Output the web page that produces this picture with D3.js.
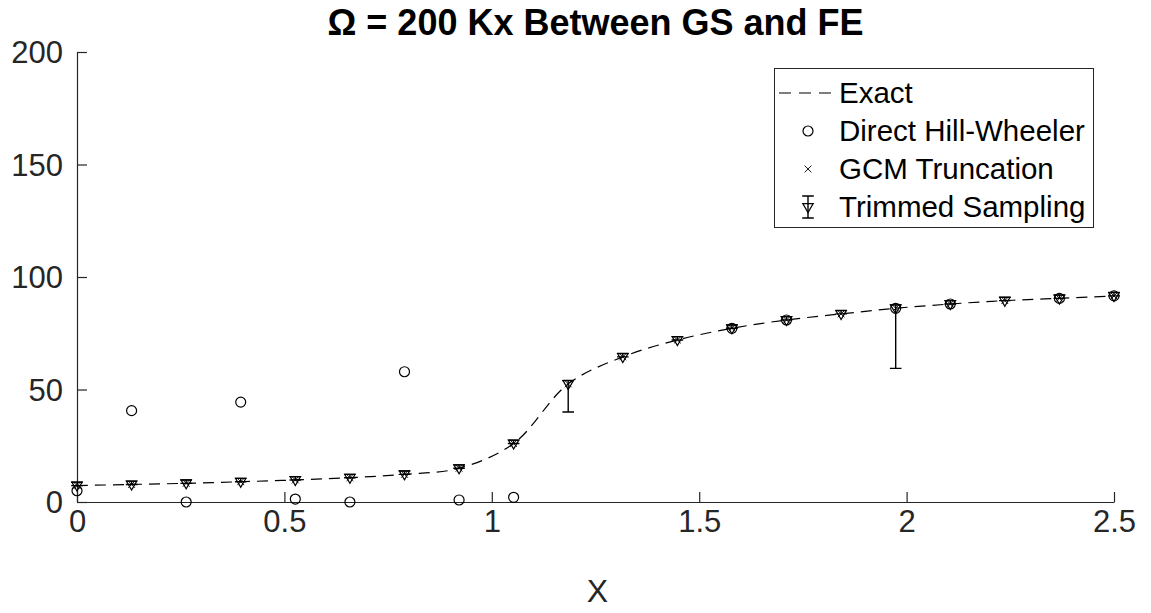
<!DOCTYPE html>
<html>
<head>
<meta charset="utf-8">
<script src="https://cdn.jsdelivr.net/npm/d3@7"></script>
<style>
  html, body { margin: 0; padding: 0; background: #fff; }
  svg { display: block; font-family: "Liberation Sans", Arial, Helvetica, sans-serif; }
</style>
</head>
<body>
<svg id="chart" width="1151" height="613"></svg>
<script>
// Sample positions along X
const xVals = [0, 0.1316, 0.2632, 0.3947, 0.5263, 0.6579, 0.7895, 0.9211, 1.0526, 1.1842,
               1.3158, 1.4474, 1.5789, 1.7105, 1.8421, 1.9737, 2.1053, 2.2368, 2.3684, 2.5];

// Exact result
const exactVals = [7.3, 7.8, 8.3, 9.0, 9.8, 10.8, 12.3, 15.0, 26.0, 52.5,
                   64.5, 72.0, 77.2, 80.9, 83.6, 86.1, 88.0, 89.5, 90.5, 91.6];

// Direct Hill-Wheeler (null = not shown)
const hwVals = [5.0, 40.6, 0.0, 44.4, 1.3, 0.0, 57.9, 0.9, 2.1, null,
                null, null, 77.2, 80.9, null, 86.1, 88.0, null, 90.5, 91.6];

// GCM truncation
const gcmVals = [7.3, 7.8, 8.3, 9.0, 9.8, 10.8, 12.3, 15.0, 26.0, 52.5,
                 64.5, 72.0, 77.2, 80.9, 83.6, 86.1, 88.0, 89.5, 90.5, 91.6];

// Trimmed sampling: value, lower and upper error
const tsVals = [7.3, 7.8, 8.3, 9.0, 9.8, 10.8, 12.3, 15.0, 26.0, 52.5,
                64.5, 72.0, 77.2, 80.9, 83.6, 86.1, 88.0, 89.5, 90.5, 91.6];
const tsLow  = [0, 0, 0, 0, 0, 0, 0, 0, 0, 12.5,
                0, 0, 0, 0, 0, 26.7, 0, 0, 0, 0];
const tsHigh = [1.5, 1.5, 1.5, 1.5, 1.5, 1.5, 1.5, 1.5, 1.5, 1.5,
                1.5, 1.5, 1.5, 1.5, 1.5, 1.5, 1.5, 1.5, 1.5, 1.5];

const xTicks = [0, 0.5, 1, 1.5, 2, 2.5];
const yTicks = [0, 50, 100, 150, 200];
const titleText = "\u03A9 = 200 Kx Between GS and FE";
const xLabel = "X";
const legendLabels = ["Exact", "Direct Hill-Wheeler", "GCM Truncation", "Trimmed Sampling"];

const svg = d3.select("#chart");
const axisColor = "#262626";

const x = d3.scaleLinear().domain([0, 2.5]).range([77, 1114]);
const y = d3.scaleLinear().domain([0, 200]).range([502, 52]);

// Title
svg.append("text")
  .attr("x", (x.range()[0] + x.range()[1]) / 2)
  .attr("y", 35)
  .attr("text-anchor", "middle")
  .attr("font-size", 36)
  .attr("font-weight", "bold")
  .attr("fill", "#000")
  .text(titleText);

// Axes (ticks point inward)
const xAxis = d3.axisBottom(x).tickValues(xTicks).tickSizeInner(-10).tickSizeOuter(0)
  .tickPadding(8).tickFormat(d3.format("~g"));
const yAxis = d3.axisLeft(y).tickValues(yTicks).tickSizeInner(-10).tickSizeOuter(0)
  .tickPadding(14).tickFormat(d3.format("~g"));

const gx = svg.append("g").attr("transform", `translate(0,${y(0)})`).call(xAxis);
const gy = svg.append("g").attr("transform", `translate(${x(0)},0)`).call(yAxis);
[gx, gy].forEach(g => {
  g.select(".domain").attr("stroke", axisColor).attr("stroke-width", 1.2);
  g.selectAll(".tick line").attr("stroke", axisColor).attr("stroke-width", 1.2);
  g.selectAll(".tick text").attr("fill", axisColor).attr("font-size", 31)
    .attr("font-family", "'Liberation Sans', Arial, sans-serif");
});
gy.selectAll(".tick text").attr("dy", "0.35em");

// X label
svg.append("text")
  .attr("x", (x.range()[0] + x.range()[1]) / 2 + 2)
  .attr("y", 602)
  .attr("text-anchor", "middle")
  .attr("font-size", 32)
  .attr("fill", axisColor)
  .text(xLabel);

// Exact curve
const pts = xVals.map((v, i) => [v, exactVals[i]]);
const line = d3.line().x(d => x(d[0])).y(d => y(d[1])).curve(d3.curveCatmullRom.alpha(0.5));
svg.append("path")
  .attr("d", line(pts))
  .attr("fill", "none")
  .attr("stroke", "#000")
  .attr("stroke-width", 1.2)
  .attr("stroke-dasharray", "11,7");

// Marker helpers
function drawCircle(g, cx, cy) {
  g.append("circle").attr("cx", cx).attr("cy", cy).attr("r", 5)
    .attr("fill", "none").attr("stroke", "#000").attr("stroke-width", 1.2);
}
function drawCross(g, cx, cy) {
  const s = 3.4;
  g.append("path")
    .attr("d", `M${cx - s},${cy - s}L${cx + s},${cy + s}M${cx - s},${cy + s}L${cx + s},${cy - s}`)
    .attr("stroke", "#000").attr("stroke-width", 0.9).attr("fill", "none");
}
function drawTri(g, cx, cy) {
  const w = 5.2, top = 3.4, bot = 5.6;
  g.append("path")
    .attr("d", `M${cx - w},${cy - top}L${cx + w},${cy - top}L${cx},${cy + bot}Z`)
    .attr("stroke", "#000").attr("stroke-width", 1.2).attr("fill", "none");
}
function drawErrBar(g, cx, yTop, yBot) {
  const c = 5.8;
  g.append("path")
    .attr("d", `M${cx},${yTop}L${cx},${yBot}M${cx - c},${yTop}L${cx + c},${yTop}M${cx - c},${yBot}L${cx + c},${yBot}`)
    .attr("stroke", "#000").attr("stroke-width", 1.4).attr("fill", "none");
}

const marks = svg.append("g");

// Trimmed sampling with error bars
xVals.forEach((v, i) => {
  const cx = x(v);
  drawErrBar(marks, cx, y(tsVals[i] + tsHigh[i]), y(tsVals[i] - tsLow[i]));
  drawTri(marks, cx, y(tsVals[i]));
});
// GCM truncation
xVals.forEach((v, i) => {
  if (gcmVals[i] != null) drawCross(marks, x(v), y(gcmVals[i]));
});
// Direct Hill-Wheeler
xVals.forEach((v, i) => {
  if (hwVals[i] != null) drawCircle(marks, x(v), y(hwVals[i]));
});

// Legend
const lg = svg.append("g");
lg.append("rect").attr("x", 774.5).attr("y", 68.5).attr("width", 319).attr("height", 159)
  .attr("fill", "#fff").attr("stroke", axisColor).attr("stroke-width", 1);
const rowY = [93, 131, 169, 207];
const iconX = 808;
lg.append("line").attr("x1", 779).attr("x2", 837).attr("y1", rowY[0]).attr("y2", rowY[0])
  .attr("stroke", "#000").attr("stroke-width", 1.2).attr("stroke-dasharray", "12,8");
drawCircle(lg, iconX, rowY[1]);
drawCross(lg, iconX, rowY[2]);
drawErrBar(lg, iconX, rowY[3] - 11, rowY[3] + 11);
drawTri(lg, iconX, rowY[3]);
legendLabels.forEach((t, i) => {
  lg.append("text").attr("x", 839).attr("y", rowY[i]).attr("dy", "0.35em")
    .attr("font-size", 29.5).attr("fill", "#000").text(t);
});
</script>
</body>
</html>
